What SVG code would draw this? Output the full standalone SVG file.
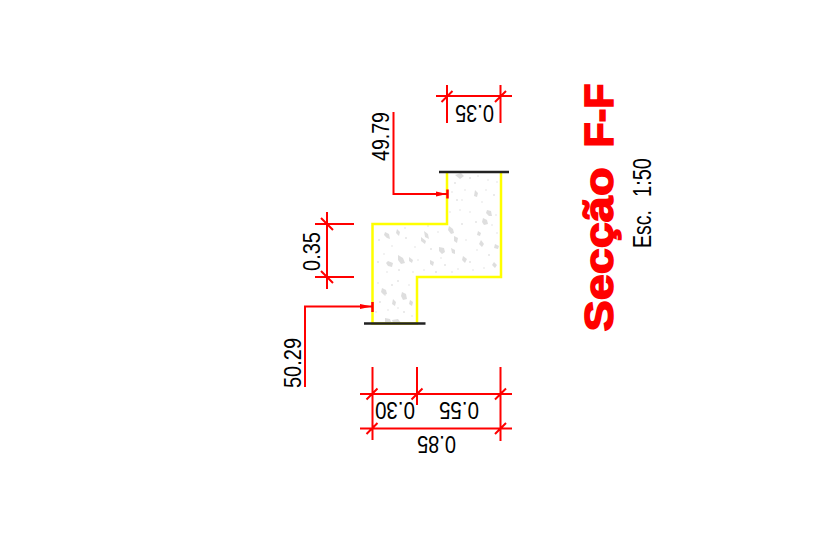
<svg xmlns="http://www.w3.org/2000/svg" width="828" height="543" viewBox="0 0 828 543">
<style>
.d{stroke:#f00;stroke-width:2;fill:none}
.t{font-family:"Liberation Sans",sans-serif;fill:#000;font-size:23px;text-anchor:middle}
.h{font-family:"Liberation Sans",sans-serif;font-weight:700;font-size:41px;fill:#f00;stroke:#f00;stroke-width:1.6;text-anchor:middle}
.s{font-family:"Liberation Sans",sans-serif;font-size:25px;fill:#000;text-anchor:middle}
.c{fill:#dedede;stroke:none}
.f{fill:#e2e2e2;stroke:none}
</style>
<rect width="828" height="543" fill="#fff"/>
<g id="section">
<path class="c" d="M385 232l4 2 1 5-3-1-3-3zM397 229l3 3-1 4-3-3zM424 231l4 3 1 5-4-2zM439 247l5 1 1 4-3 2-3-3zM421 237l5 4-1 3-4-3zM454 236l4 2-1 5-3-2zM483 218l4 2 1 4-4 1-2-3zM481 240l3 4-2 3-3-3zM495 244l4 2-1 3-4-1zM398 255l5 3 2 5-4 1-3-4zM388 261l5 2-1 4-4-1-2-3zM409 257l4 3-1 3-3-2zM449 226l4 3 1 4-3 1-3-4zM463 256l4 3-2 4-3-3zM494 262l3 3-2 3-3-3zM451 248l4 2 0 4-3-1zM430 260l4 2-1 4-3-2zM382 288l4 2 1 4-3 1-3-3zM402 292l4 2 1 5-4 1-2-4zM393 299l3 3-1 4-3-2zM410 300l3 2-1 4-3-2zM385 318l5 1 1 3-6 1zM392 320l6-1 3 4h-8zM475 190l3 3-1 4-3-1zM487 210l4 1 1 5-3 0-3-3zM455 175l6-2 3 3-4 3zM478 231l3 2-1 3-3-1z"/>
<g class="f"><circle cx="379" cy="240" r=".9"/><circle cx="392" cy="246" r=".8"/><circle cx="406" cy="238" r=".9"/><circle cx="415" cy="247" r=".8"/><circle cx="378" cy="262" r=".9"/><circle cx="387" cy="272" r=".8"/><circle cx="399" cy="270" r=".9"/><circle cx="413" cy="272" r=".8"/><circle cx="431" cy="249" r=".9"/><circle cx="438" cy="232" r=".8"/><circle cx="445" cy="265" r=".9"/><circle cx="458" cy="269" r=".8"/><circle cx="470" cy="262" r=".9"/><circle cx="477" cy="250" r=".8"/><circle cx="489" cy="255" r=".9"/><circle cx="497" cy="233" r=".8"/><circle cx="462" cy="224" r=".9"/><circle cx="470" cy="212" r=".8"/><circle cx="457" cy="200" r=".9"/><circle cx="465" cy="190" r=".8"/><circle cx="455" cy="183" r=".9"/><circle cx="488" cy="180" r=".8"/><circle cx="494" cy="195" r=".9"/><circle cx="482" cy="202" r=".8"/><circle cx="470" cy="178" r=".9"/><circle cx="378" cy="283" r=".8"/><circle cx="392" cy="285" r=".9"/><circle cx="409" cy="285" r=".8"/><circle cx="380" cy="302" r=".9"/><circle cx="388" cy="310" r=".8"/><circle cx="404" cy="312" r=".9"/><circle cx="412" cy="316" r=".8"/><circle cx="398" cy="281" r=".9"/><circle cx="424" cy="270" r=".8"/><circle cx="436" cy="272" r=".9"/><circle cx="450" cy="212" r=".8"/><circle cx="476" cy="222" r=".9"/><circle cx="496" cy="215" r=".8"/><circle cx="384" cy="254" r=".8"/><circle cx="405" cy="228" r=".8"/><circle cx="418" cy="260" r=".8"/><circle cx="428" cy="226" r=".8"/><circle cx="441" cy="258" r=".8"/><circle cx="452" cy="272" r=".8"/><circle cx="466" cy="240" r=".8"/><circle cx="473" cy="270" r=".8"/><circle cx="484" cy="268" r=".8"/><circle cx="492" cy="225" r=".8"/><circle cx="460" cy="210" r=".8"/><circle cx="478" cy="176" r=".8"/><circle cx="497" cy="182" r=".8"/><circle cx="452" cy="192" r=".8"/><circle cx="486" cy="190" r=".8"/><circle cx="462" cy="200" r=".8"/><circle cx="376" cy="312" r=".8"/><circle cx="398" cy="308" r=".8"/><circle cx="385" cy="295" r=".8"/></g>
<path d="M447 172V224H372.500V323.500H417V277H501V172" fill="none" stroke="#ff0" stroke-width="2.500"/>
<path d="M364 323.500H425.500M439 172H509" fill="none" stroke="#222" stroke-width="2.500"/>
</g>
<g id="connectors">
<path class="d" d="M360 394H512M360 428.500H512M372.500 367V440M417 367V405M500.500 367V441M366.500 399.500l11-11M411.500 399.500l11-11M495 399.500l11-11M366.500 434l11-11M495 434l11-11"/>
<path class="d" d="M436 96H512M447 85V123M500.500 85V123M441.500 102l11-11M495 102l11-11"/>
<path class="d" d="M315 224H354M315 277H354M327 212V289M321 218l12 12M321 271l12 12"/>
<path class="d" d="M393.500 112V194H447M305 387V306.500H372"/>
<path d="M436 191.500L447 194L436 196.500ZM360 304L372 306.500L360 309Z" fill="#f00"/>
<path d="M447.500 189.500V198.500M372.500 302V312" stroke="#f00" stroke-width="2.500" fill="none"/>
</g>
<g id="labels">
<text class="t" transform="translate(301 363) rotate(-90)" textLength="50" lengthAdjust="spacingAndGlyphs">50.29</text>
<text class="t" transform="translate(320 251.500) rotate(-90)" textLength="39" lengthAdjust="spacingAndGlyphs">0.35</text>
<text class="t" transform="translate(389 136.500) rotate(-90)" textLength="49" lengthAdjust="spacingAndGlyphs">49.79</text>
<text class="t" transform="translate(395 402) rotate(180)" textLength="40" lengthAdjust="spacingAndGlyphs">0.30</text>
<text class="t" transform="translate(459 402) rotate(180)" textLength="40" lengthAdjust="spacingAndGlyphs">0.55</text>
<text class="t" transform="translate(436.500 436) rotate(180)" textLength="39" lengthAdjust="spacingAndGlyphs">0.85</text>
<text class="t" transform="translate(474.500 105) rotate(180)" textLength="39" lengthAdjust="spacingAndGlyphs">0.35</text>
<text class="h" transform="translate(612.500 249.500) rotate(-90)" textLength="164" lengthAdjust="spacingAndGlyphs">Secção</text>
<text class="h" transform="translate(612.500 115.500) rotate(-90)" textLength="64" lengthAdjust="spacingAndGlyphs">F-F</text>
<text class="s" transform="translate(651 229) rotate(-90)" textLength="38" lengthAdjust="spacingAndGlyphs">Esc.</text>
<text class="s" transform="translate(651 177.500) rotate(-90)" textLength="39" lengthAdjust="spacingAndGlyphs">1:50</text>
</g>
</svg>
